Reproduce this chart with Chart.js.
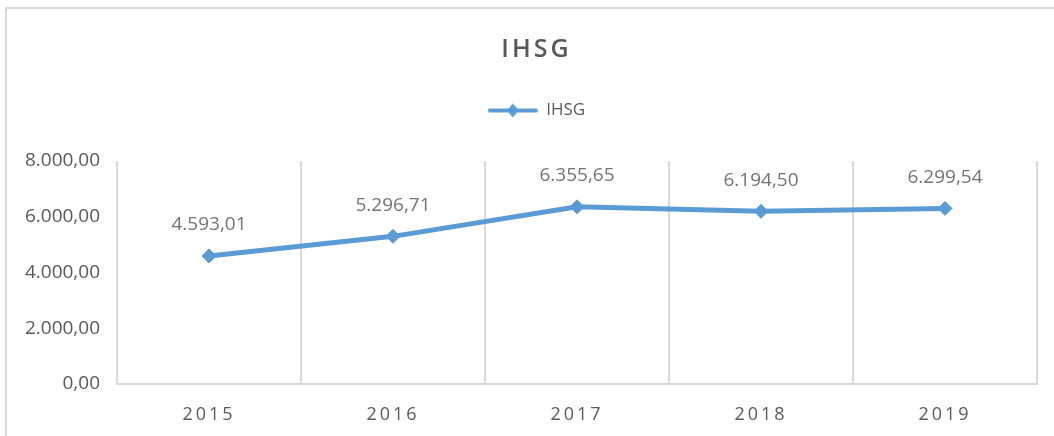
<!DOCTYPE html>
<html>
<head>
<meta charset="utf-8">
<title>IHSG</title>
<script src="https://cdn.jsdelivr.net/npm/chart.js@4.4.1/dist/chart.umd.min.js"></script>
<style>
  html, body { margin: 0; padding: 0; background: #fff; overflow: hidden; }
  #wrap { position: relative; width: 1054px; height: 436px; }
  #frame { position: absolute; left: 5px; top: 7px; width: 1100px; height: 500px;
           border-left: 2px solid #d9d9d9; border-top: 2px solid #d9d9d9; }
  canvas { position: absolute; left: 0; top: 0; }
</style>
</head>
<body>
<div id="wrap">
  <div id="frame"></div>
  <canvas id="ihsg-chart" width="1054" height="436"></canvas>
</div>
<script>
var years = ['2015', '2016', '2017', '2018', '2019'];
var ihsg = [4593.01, 5296.71, 6355.65, 6194.50, 6299.54];
var yTicks = [0, 2000, 4000, 6000, 8000];

var blue = '#5b9bd5';
var grey = '#595959';
var legendGap = 32;
var headShift = 18; // title + legend sit a bit right of the canvas centre

// 8000 -> "8.000,00"
function fmt(n) {
    var parts = n.toFixed(2).split('.');
    parts[0] = parts[0].replace(/\B(?=(\d{3})+(?!\d))/g, '.');
    return parts[0] + ',' + parts[1];
}

// line + diamond swatch for the legend
function legendMark() {
    var c = document.createElement('canvas');
    c.width = 50;
    c.height = 16;
    var g = c.getContext('2d');
    g.strokeStyle = blue;
    g.lineWidth = 4;
    g.lineCap = 'round';
    g.beginPath();
    g.moveTo(2, 8);
    g.lineTo(48, 8);
    g.stroke();
    g.fillStyle = blue;
    g.beginPath();
    g.moveTo(25, 1);
    g.lineTo(31, 8);
    g.lineTo(25, 15);
    g.lineTo(19, 8);
    g.closePath();
    g.fill();
    return c;
}

function wrapDraw(box, name, spacing, shift) {
    if (!box || box['_w' + name]) return;
    var orig = box[name];
    box[name] = function (a) {
        this.ctx.save();
        this.ctx.translate(shift, 0);
        this.ctx.letterSpacing = spacing;
        orig.call(this, a);
        this.ctx.restore();
    };
    box['_w' + name] = true;
}

var tweaks = {
    id: 'tweaks',
    beforeLayout: function (chart) {
        var lg = chart.legend;
        if (lg && !lg._padded) {
            var fit = lg.fit;
            lg.fit = function () {
                fit.call(this);
                this.height += legendGap;
            };
            lg._padded = true;
        }
    },
    beforeDraw: function (chart) {
        wrapDraw(chart.scales.x, 'drawLabels', '3px', 0);
        wrapDraw(chart.titleBlock, 'draw', '3px', headShift);
        wrapDraw(chart.legend, 'draw', '0px', headShift);
    }
};

var valueLabels = {
    id: 'valueLabels',
    afterDatasetsDraw: function (chart) {
        var ctx = chart.ctx;
        var meta = chart.getDatasetMeta(0);
        ctx.save();
        ctx.font = '19px "Open Sans"';
        ctx.fillStyle = '#737373';
        ctx.textAlign = 'center';
        ctx.textBaseline = 'middle';
        meta.data.forEach(function (pt, i) {
            ctx.fillText(fmt(ihsg[i]), pt.x, pt.y - 31);
        });
        ctx.restore();
    }
};

Chart.defaults.font.family = "'Open Sans', sans-serif";
Chart.defaults.color = grey;

var ctx = document.getElementById('ihsg-chart');

var myChart = new Chart(ctx, {
    type: 'line',
    data: {
        labels: years,
        datasets: [{
            label: 'IHSG',
            data: ihsg,
            borderColor: blue,
            backgroundColor: blue,
            borderWidth: 5,
            tension: 0,
            pointStyle: 'rectRot',
            pointRadius: 7,
            pointBorderWidth: 1,
            pointBackgroundColor: blue,
            pointBorderColor: blue
        }]
    },
    options: {
        responsive: false,
        animation: false,
        layout: { padding: { top: 0, left: 0, right: 17, bottom: 0 } },
        plugins: {
            title: {
                display: true,
                text: 'IHSG',
                color: grey,
                font: { size: 25, weight: '600' },
                padding: { top: 35, bottom: 9 }
            },
            legend: {
                display: true,
                labels: {
                    usePointStyle: true,
                    pointStyle: legendMark(),
                    pointStyleWidth: 50,
                    color: grey,
                    font: { size: 17 },
                    padding: 28
                }
            },
            tooltip: { enabled: false }
        },
        scales: {
            x: {
                offset: true,
                grid: { offset: true, color: '#d9d9d9', lineWidth: 2, drawTicks: false },
                border: { display: true, color: '#d9d9d9', width: 2 },
                ticks: { color: grey, font: { size: 18 }, padding: 20 },
                afterFit: function (s) { s.height = 52; }
            },
            y: {
                min: 0,
                max: 8000,
                grid: { display: false, drawTicks: false },
                border: { display: false },
                ticks: {
                    color: grey,
                    font: { size: 19 },
                    padding: 17,
                    callback: function (v) { return fmt(v); }
                },
                afterBuildTicks: function (s) {
                    s.ticks = yTicks.map(function (v) { return { value: v }; });
                },
                afterFit: function (s) { s.width = 117; }
            }
        }
    },
    plugins: [tweaks, valueLabels]
});
</script>
</body>
</html>
